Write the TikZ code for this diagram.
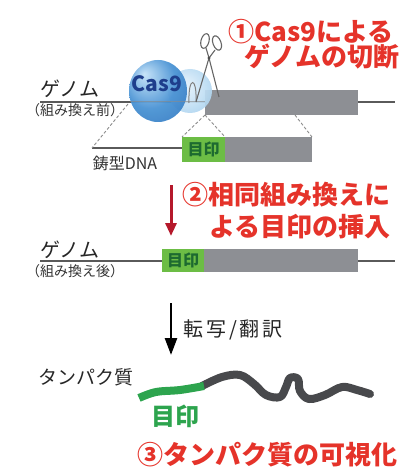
\documentclass[tikz,border=0pt]{standalone}
\usepackage{fontspec}
\setmainfont{Noto Sans CJK JP}
\usetikzlibrary{arrows.meta}
\definecolor{redtxt}{HTML}{E5332A}
\definecolor{redarrow}{HTML}{B5182B}
\definecolor{markfill}{HTML}{6CBD45}
\definecolor{marktxt}{HTML}{1D6A30}
\definecolor{genebox}{HTML}{8D8F94}
\definecolor{dnaline}{HTML}{5A5A5A}
\definecolor{protgreen}{HTML}{2DA44E}
\definecolor{protgray}{HTML}{48494C}
\definecolor{castxt}{HTML}{1E3E8C}
\definecolor{bigA}{HTML}{C4E2F8}
\definecolor{bigB}{HTML}{4A93D4}
\definecolor{bigC}{HTML}{2468B2}
\definecolor{smA}{HTML}{EAF5FC}
\definecolor{smB}{HTML}{B8DAF2}
\definecolor{smC}{HTML}{8CBFE7}
\pgfdeclareradialshading{casbig}{\pgfpoint{-12bp}{14bp}}{color(0bp)=(bigA); color(22bp)=(bigB); color(50bp)=(bigC)}
\pgfdeclareradialshading{cassmall}{\pgfpoint{-8bp}{6bp}}{color(0bp)=(smA); color(25bp)=(smB); color(50bp)=(smC)}
\tikzset{
  redlabel/.style={text=redtxt, font=\fontsize{26}{32}\selectfont\bfseries, inner sep=0pt},
  plainlabel/.style={text=black!85, font=\fontsize{19}{22}\selectfont, inner sep=0pt},
  smalllabel/.style={text=black!80, font=\fontsize{14}{16}\selectfont, inner sep=0pt},
  genebar/.style={fill=genebox, inner sep=0pt, outer sep=0pt, anchor=north west},
  markbar/.style={fill=markfill, inner sep=0pt, outer sep=0pt, anchor=north west,
    text=marktxt, font=\fontsize{16}{18}\selectfont\bfseries},
  dnastrand/.style={draw=dnaline, line width=1.4pt},
  guide/.style={draw=black!45, densely dashed, line width=0.9pt},
  protein/.style={line width=8pt, line cap=round, line join=round},
  scissor/.style={draw=black!60, line width=1.1pt}
}
\begin{document}
\begin{tikzpicture}[x=1pt, y=-1pt]
\useasboundingbox (0,0) rectangle (414,473);

% ---- step 1: genome before recombination, Cas9 cut
\node[redlabel] (t1a) at (311,32) {①Cas9による};
\node[redlabel] (t1b) at (322,57) {ゲノムの切断};

\coordinate (g1l) at (40,102);
\coordinate (g1r) at (395,102);
\draw[dnastrand] (g1l) -- (g1r);
\node[genebar, minimum width=153pt, minimum height=25pt] (gene1) at (205,90) {};

% Cas9 protein (two lobes)
\path[shading=cassmall, opacity=0.92] (190,91) circle (22);
\path[shading=casbig, opacity=0.95] (158,91) ellipse [x radius=29, y radius=31];
\draw[dnaline!70, line width=1pt, opacity=0.6] (130,102) -- (205,102);
\node[text=castxt, font=\fontsize{21}{23}\selectfont\bfseries, inner sep=0pt] (cas) at (157,84) {Cas9};

% guide RNA hairpin
\draw[black!50, line width=1pt] (189,103) .. controls (188,76) and (197,76) .. (196,101);

% scissors
\draw[scissor, fill=white, fill opacity=0.6] (205,41) ellipse [x radius=4, y radius=7.5, rotate=-15];
\draw[scissor, fill=white, fill opacity=0.6] (217,43) ellipse [x radius=4, y radius=7.5, rotate=20];
\draw[scissor] (206,48) -- (209,58) -- (196,102);
\draw[scissor] (215,50) -- (209,58) -- (219,97);
\fill[black!70] (209,58) circle (1.6);

% donor template
\coordinate (tpl) at (92,148);
\node[markbar, minimum width=43pt, minimum height=25pt] (mark1) at (182,137) {目印};
\node[genebar, minimum width=87pt, minimum height=25pt] (gene2) at (225,137) {};
\draw[dnastrand] (tpl) -- (mark1.west |- tpl);
\node[text=black!80, font=\fontsize{16}{18}\selectfont, inner sep=0pt] (tplname) at (125,163) {鋳型DNA};

\coordinate (arm) at (128,104);
\draw[guide] (arm) -- (tpl);
\draw[guide] (gene1.south west) -- (mark1.north west);
\draw[guide] (gene1.south west) -- (mark1.north east);
\coordinate (armR) at (295,115);
\draw[guide] (armR) -- (gene2.north east);

\node[plainlabel, font=\fontsize{20}{22}\selectfont] (gen1) at (70,89) {ゲノム};
\node[smalllabel] (gen1s) at (75,110) {（組み換え前）};

% ---- step 2: homologous recombination
\coordinate (ra) at (171,185);
\coordinate (rb) at (171,236);
\draw[redarrow, line width=3pt, -{Triangle[length=13pt, width=11pt]}] (ra) -- (rb);
\node[redlabel, align=right, anchor=north east] (t2) at (391,182) {②相同組み換えに\\よる目印の挿入};

\coordinate (g2l) at (40,261);
\coordinate (g2r) at (395,261);
\draw[dnastrand] (g2l) -- (g2r);
\node[markbar, minimum width=42pt, minimum height=23pt] (mark2) at (162,249) {目印};
\node[genebar, minimum width=154pt, minimum height=23pt] (gene3) at (204,249) {};
\node[plainlabel, font=\fontsize{20}{22}\selectfont] (gen2) at (70,250) {ゲノム};
\node[smalllabel] (gen2s) at (75,271) {（組み換え後）};

% ---- step 3: transcription / translation
\coordinate (ba) at (171,303);
\coordinate (bb) at (171,355);
\draw[black, line width=2.6pt, -{Triangle[length=17pt, width=12pt]}] (ba) -- (bb);
\node[plainlabel, font=\fontsize{20}{22}\selectfont\addfontfeature{LetterSpace=15}] (tr) at (233,330) {転写/翻訳};

\node[plainlabel] (prot) at (86,377) {タンパク質};
\draw[protein, protgray] plot[smooth, tension=0.6] coordinates {
  (202,386) (222,377) (240,375) (254,384) (266,395) (280,397) (286,387)
  (290,378) (298,379) (300,391) (309,399) (325,395) (342,387) (357,390) (370,394)};
\draw[protein, protgreen, line cap=butt] plot[smooth, tension=0.6] coordinates {
  (139,398) (156,392) (180,390) (204,386)};
\node[text=protgreen, font=\fontsize{24}{26}\selectfont\bfseries, inner sep=0pt] (mark3) at (175,416) {目印};

\node[redlabel] (t3) at (267,455) {③タンパク質の可視化};
\end{tikzpicture}
\end{document}
